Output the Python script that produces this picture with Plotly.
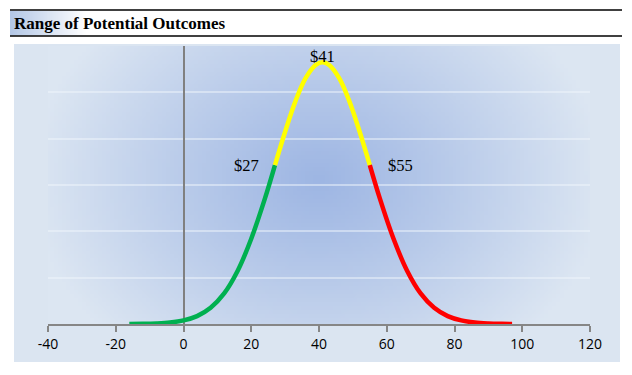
import base64, struct, zlib
import plotly.graph_objects as go

# ---- data ----
green_x = [-16, -12, -8, -4, 0, 4, 8, 12, 16, 20, 24, 27]
green_y = [0.002, 0.004, 0.012, 0.032, 0.077, 0.17, 0.35, 0.66, 1.15, 1.84, 2.70, 3.43]
yellow_x = [27, 30, 33, 36, 39, 41, 43, 46, 49, 52, 55]
yellow_y = [3.43, 4.15, 4.80, 5.30, 5.59, 5.65, 5.59, 5.30, 4.80, 4.15, 3.43]
red_x = [55, 58, 62, 66, 70, 74, 78, 82, 86, 90, 94, 97]
red_y = [3.43, 2.70, 1.84, 1.15, 0.66, 0.35, 0.17, 0.077, 0.032, 0.012, 0.004, 0.002]
label_values = [27, 41, 55]
label_texts = ["$27", "$41", "$55"]
x_ticks = [-40, -20, 0, 20, 40, 60, 80, 100, 120]
title_text = "Range of Potential Outcomes"

# ---- helpers for gradient images ----
def make_png(w, h, func):
    raw = b""
    for j in range(h):
        row = bytearray([0])
        for i in range(w):
            row += bytes(func(i, j))
        raw += bytes(row)
    def chunk(t, d):
        c = struct.pack(">I", len(d)) + t + d
        return c + struct.pack(">I", zlib.crc32(t + d) & 0xffffffff)
    png = b"\x89PNG\r\n\x1a\n"
    png += chunk(b"IHDR", struct.pack(">IIBBBBB", w, h, 8, 2, 0, 0, 0))
    png += chunk(b"IDAT", zlib.compress(raw, 9))
    png += chunk(b"IEND", b"")
    return "data:image/png;base64," + base64.b64encode(png).decode()

C_IN = (158, 182, 227)
C_OUT = (220, 230, 242)

PW, PH = 542, 278
IW, IH = 136, 70
def radial(i, j):
    px = (i + 0.5) / IW * PW
    py = (j + 0.5) / IH * PH
    dx = (px - 270) / 285.0
    dy = (py - 134) / 225.0
    r = min(1.0, (dx * dx + dy * dy) ** 0.5)
    t = r ** 1.1
    return tuple(int(round(a + (b - a) * t)) for a, b in zip(C_IN, C_OUT))

bg_img = make_png(IW, IH, radial)

T_L = (180, 200, 230)
def hgrad(i, j):
    t = min(1.0, i / 40.0)
    return tuple(int(round(a + (255 - a) * t)) for a in T_L)
title_img = make_png(64, 2, hgrad)

# ---- layout geometry ----
L, R, T, B = 48, 42, 46, 51
W, H = 632, 375
pw, ph = W - L - R, H - T - B
def px2x(px):
    return (px - L) / pw
def py2y(py):
    return (H - B - py) / ph

fig = go.Figure()
for xs, ys, col in [(green_x, green_y, "#00b050"),
                    (yellow_x, yellow_y, "#ffff00"),
                    (red_x, red_y, "#ff0000")]:
    fig.add_trace(go.Scatter(x=xs, y=ys, mode="lines",
                             line=dict(color=col, width=4.5, shape="spline", smoothing=1.0),
                             hoverinfo="skip", showlegend=False))

def y_at(v):
    for xs, ys in [(green_x, green_y), (yellow_x, yellow_y), (red_x, red_y)]:
        if v in xs:
            return ys[xs.index(v)]
    return 0

ann = []
for v, txt in zip(label_values, label_texts):
    yv = y_at(v)
    if v == label_values[0]:
        ann.append(dict(x=v, y=yv, text=txt, xanchor="right", yanchor="middle",
                        xshift=-14, yshift=0, showarrow=False))
    elif v == label_values[2]:
        ann.append(dict(x=v, y=yv, text=txt, xanchor="left", yanchor="middle",
                        xshift=16, yshift=0, showarrow=False))
    else:
        ann.append(dict(x=v, y=yv, text=txt, xanchor="center", yanchor="middle",
                        yshift=6, showarrow=False))
for a in ann:
    a["font"] = dict(family="Liberation Serif", size=16.5, color="#000000")

ann.append(dict(xref="paper", yref="paper", x=px2x(12), y=py2y(23.5),
                text="<b>" + title_text + "</b>", xanchor="left", yanchor="middle",
                showarrow=False, font=dict(family="Liberation Serif", size=17, color="#000000")))

shapes = [
    dict(type="rect", xref="paper", yref="paper", x0=px2x(14), x1=px2x(620),
         y0=py2y(44), y1=py2y(362), fillcolor="#dbe5f1", line=dict(width=0), layer="below"),
    dict(type="line", xref="paper", yref="paper", x0=px2x(10), x1=px2x(622),
         y0=py2y(10), y1=py2y(10), line=dict(color="#000000", width=1.3)),
    dict(type="line", xref="paper", yref="paper", x0=px2x(10), x1=px2x(622),
         y0=py2y(36), y1=py2y(36), line=dict(color="#000000", width=1.3)),
]

images = [
    dict(source=bg_img, xref="x", yref="y", x=-40, y=6, sizex=160, sizey=6,
         sizing="stretch", layer="below", xanchor="left", yanchor="top"),
    dict(source=title_img, xref="paper", yref="paper", x=px2x(10), y=py2y(11),
         sizex=px2x(130) - px2x(10), sizey=py2y(11) - py2y(35.5), sizing="stretch",
         layer="below", xanchor="left", yanchor="top"),
]

fig.update_layout(
    width=W, height=H,
    margin=dict(l=L, r=R, t=T, b=B),
    paper_bgcolor="#ffffff",
    plot_bgcolor="rgba(0,0,0,0)",
    annotations=ann, shapes=shapes, images=images,
    xaxis=dict(range=[-40, 120], tickvals=x_ticks, ticktext=[str(t) for t in x_ticks],
               showgrid=False, zeroline=True, zerolinecolor="#808080", zerolinewidth=2,
               showline=True, linecolor="#868686", linewidth=2,
               ticks="outside", ticklen=6, tickcolor="#868686", tickwidth=1.5,
               tickfont=dict(family="Open Sans", size=14, color="#000000"), fixedrange=True),
    yaxis=dict(range=[0, 6], dtick=1, showticklabels=False, showgrid=True,
               gridcolor="rgba(240,245,252,0.5)", gridwidth=2, zeroline=False,
               showline=False, ticks="", fixedrange=True),
)

fig.write_html("out.html", config=dict(displayModeBar=False),
               post_script="document.body.style.margin='0';document.body.style.padding='0';")
